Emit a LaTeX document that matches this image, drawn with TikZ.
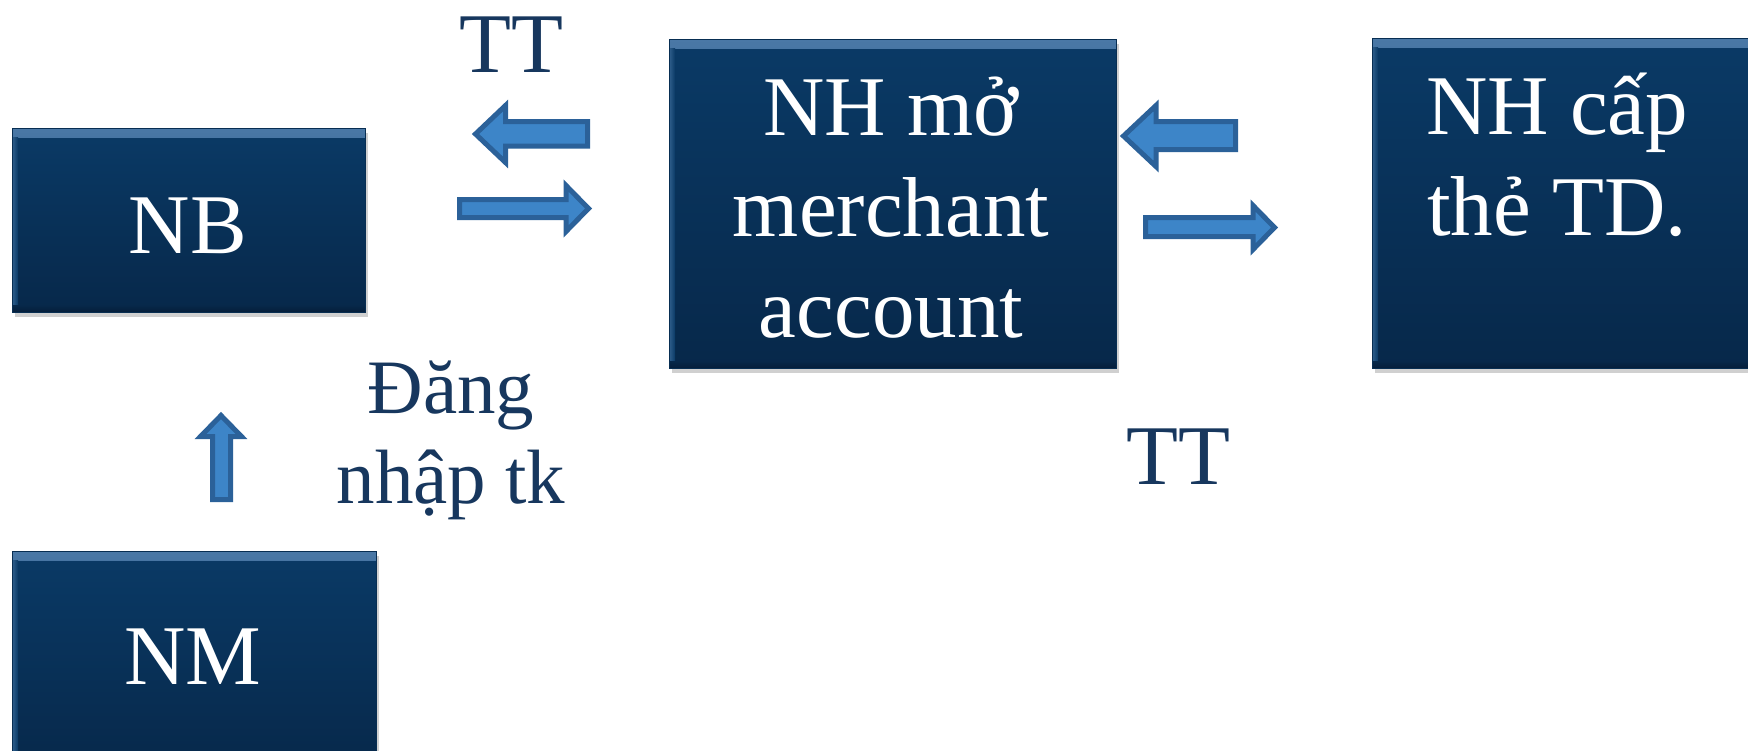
\documentclass[tikz,border=0pt]{standalone}
\usepackage{fontspec}
\setmainfont{Liberation Serif}
\usetikzlibrary{shadows}
\definecolor{boxtop}{HTML}{0A3A66}
\definecolor{boxbot}{HTML}{07284A}
\definecolor{bevel}{HTML}{4A78A6}
\definecolor{bevelbot}{HTML}{051E3A}
\definecolor{labelcol}{HTML}{17375E}
\definecolor{arrowfill}{HTML}{3D85C8}
\definecolor{arrowline}{HTML}{2B6199}
\tikzset{
  bluebox/.style={rectangle, inner sep=0pt, top color=boxtop, bottom color=boxbot,
    draw=boxtop!80!black, line width=0.8pt,
    drop shadow={shadow xshift=3pt, shadow yshift=-5pt, opacity=0.3, fill=black!60},
    path picture={
      \shade[top color=bevel, bottom color=boxtop]
        (path picture bounding box.north west) rectangle ([yshift=-9pt]path picture bounding box.north east);
      \shade[left color=bevel!60!boxtop, right color=boxtop]
        ([yshift=-9pt]path picture bounding box.north west) rectangle ([xshift=6pt]path picture bounding box.south west);
      \shade[top color=boxbot, bottom color=bevelbot]
        ([yshift=7pt]path picture bounding box.south west) rectangle (path picture bounding box.south east);
    }},
  boxtext/.style={text=white, font=\fontsize{85}{101}\selectfont, align=center, inner sep=0pt},
  labeltext/.style={text=labelcol, font=\fontsize{85}{101}\selectfont, align=center, inner sep=0pt},
  smalllabel/.style={text=labelcol, font=\fontsize{77}{90}\selectfont, align=center, inner sep=0pt},
  blockarrow/.style={fill=arrowfill, draw=arrowline, line width=5pt, line join=miter}
}
\begin{document}
\begin{tikzpicture}[x=1pt,y=-1pt]
\clip (0,0) rectangle (1748,750);
\fill[white] (0,0) rectangle (1748,750);

% boxes
\node[bluebox, minimum width=353, minimum height=184] (nb) at (188.5,220) {};
\node[boxtext, anchor=base] (nbt) at (188,253) {NB};

\node[bluebox, minimum width=364, minimum height=220] (nm) at (194,661) {};
\node[boxtext, anchor=base] (nmt) at (193,684) {NM};

\node[bluebox, minimum width=447, minimum height=329] (mo) at (892.5,203.5) {};
\node[boxtext, anchor=base] (mot) at (891,337) {NH mở\\merchant\\account };

\node[bluebox, minimum width=400, minimum height=330] (cap) at (1572,203) {};
\node[boxtext, anchor=base] (capt) at (1557,235) {NH cấp\\thẻ TD.};

% labels
\node[labeltext, anchor=base] (tt1) at (511,72) {TT};
\node[labeltext, anchor=base] (tt2) at (1178,484) {TT};
\node[smalllabel, anchor=base] (dn) at (451,503) {Đăng\\nhập tk};

% block arrows
\draw[blockarrow] (475.5,134) -- (505.5,105.5) -- (505.5,121.5) -- (587.5,121.5) -- (587.5,146) -- (505.5,146) -- (505.5,162.5) -- cycle;
\draw[blockarrow] (459.5,199.5) -- (566,199.5) -- (566,185.5) -- (588.5,208.5) -- (566,231.5) -- (566,217.5) -- (459.5,217.5) -- cycle;
\draw[blockarrow] (1123.5,136) -- (1156,105.5) -- (1156,121.5) -- (1235.5,121.5) -- (1235.5,149.5) -- (1156,149.5) -- (1156,166.5) -- cycle;
\draw[blockarrow] (1145.5,217.5) -- (1253,217.5) -- (1253,205.5) -- (1274.5,227.5) -- (1253,249.5) -- (1253,236.5) -- (1145.5,236.5) -- cycle;
\draw[blockarrow] (221,415.5) -- (241.5,436.5) -- (230.5,436.5) -- (230.5,499.5) -- (212.5,499.5) -- (212.5,436.5) -- (200.5,436.5) -- cycle;
\end{tikzpicture}
\end{document}
